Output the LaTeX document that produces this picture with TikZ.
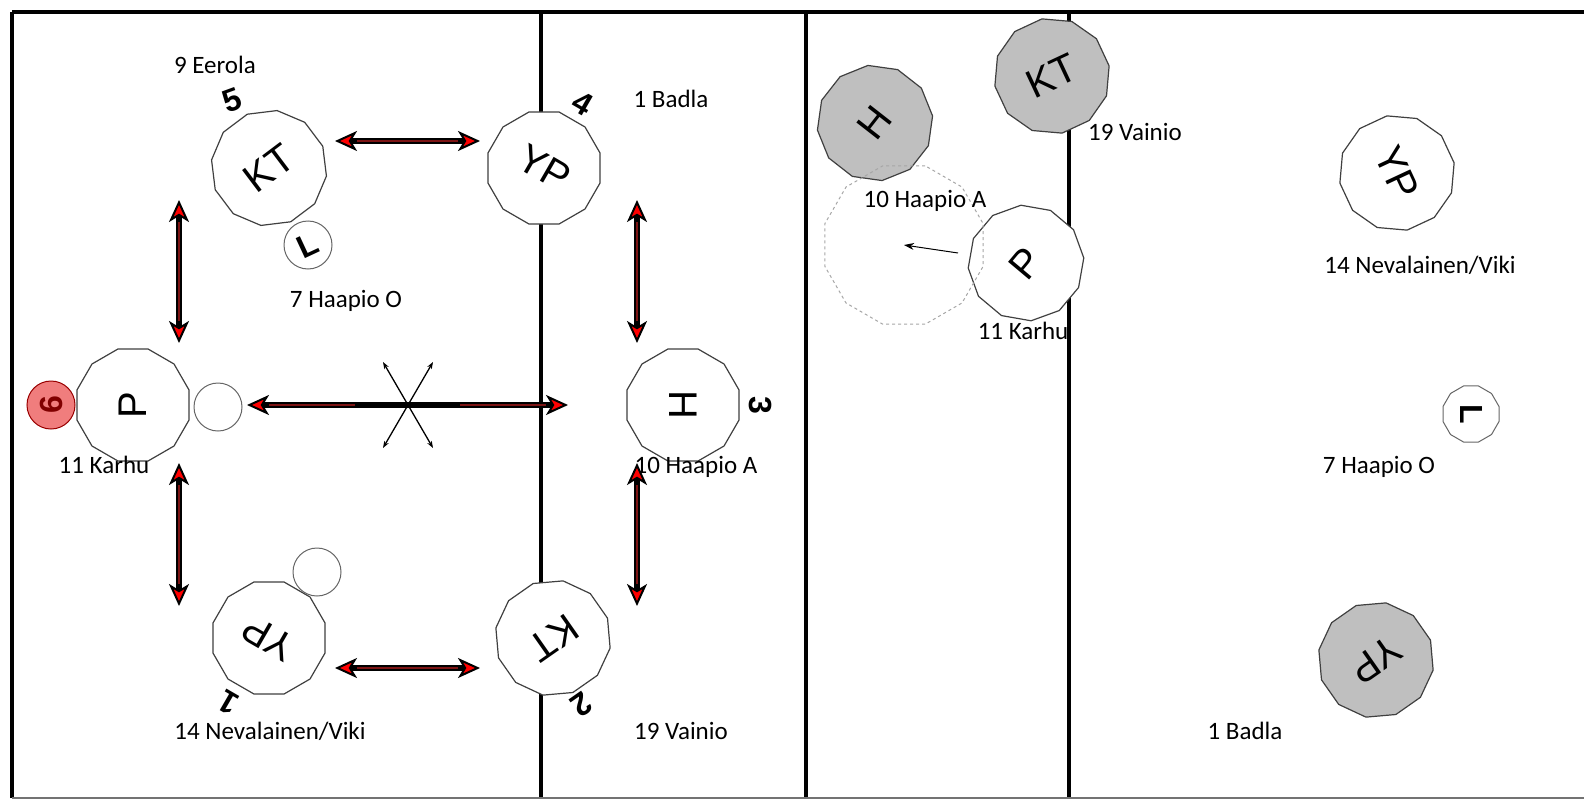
\documentclass[tikz,border=0pt]{standalone}
\usepackage{fontspec}
\setmainfont{Carlito}
\newfontfamily\plfont{Liberation Sans}
\usetikzlibrary{shapes.geometric,arrows.meta}
\definecolor{arrred}{RGB}{125,20,20}
\definecolor{tokred}{RGB}{240,125,125}
\begin{document}
\begin{tikzpicture}[x=1pt,y=-1pt,
    player/.style={regular polygon,regular polygon sides=12,minimum size=116pt,inner sep=0pt,
      draw=black!75,line width=1.2pt,fill=white,font=\plfont\fontsize{40}{40}\selectfont},
    opp/.style={player,fill=black!25},
    ghost/.style={regular polygon,regular polygon sides=12,minimum size=164pt,inner sep=0pt,
      draw=black!35,dashed,line width=1pt},
    token/.style={circle,minimum size=48pt,inner sep=0pt,draw=black!60,line width=1pt,fill=white},
    libtoken/.style={regular polygon,regular polygon sides=12,minimum size=58pt,inner sep=0pt,
      draw=black!60,line width=1pt,fill=white},
    posnum/.style={font=\plfont\bfseries\fontsize{32}{32}\selectfont,inner sep=0pt},
    lbl/.style={font=\fontsize{25}{30}\selectfont,anchor=base,inner sep=0pt},
    wall/.style={line width=4.5pt},
    move/.style={line width=6pt,
      {Stealth[length=22pt,width=20pt,inset=6pt,fill=red,line width=2pt]}-{Stealth[length=22pt,width=20pt,inset=6pt,fill=red,line width=2pt]},
      postaction={draw=arrred,line width=2.5pt,arrows=-,shorten <=22pt,shorten >=22pt}},
    cross/.style={line width=1.3pt,{Stealth[length=7pt,width=5pt]}-{Stealth[length=7pt,width=5pt]}},
    glide/.style={line width=1pt,-{Stealth[length=10pt,width=7pt]}}]
  \useasboundingbox (0,0) rectangle (1584,800);

  % court lines
  \draw[wall] (12,12) -- (1584,12);
  \draw[wall] (12,12) -- (12,798);
  \draw[wall] (541,12) -- (541,798);
  \draw[wall] (806,12) -- (806,798);
  \draw[wall] (1069,12) -- (1069,798);
  \draw[black!55,line width=1.5pt] (12,798) -- (1584,798);

  % left court
  \node[player,rotate=37] (kt1) at (269,168) {KT};
  \node[player,rotate=-30] (yp1) at (544,168) {YP};
  \node[player,rotate=90] (p1) at (133,405) {P};
  \node[player,rotate=-90] (h1) at (683,405) {H};
  \node[player,rotate=150] (yp2) at (269,638) {YP};
  \node[player,rotate=215] (kt2) at (553,638) {KT};

  \node[token,fill=tokred,draw=red!60!black] (t6) at (51,405) {};
  \node[posnum,rotate=90,text=red!50!black] (n6) at (t6) {6};
  \node[token] (l1) at (308,245) {};
  \node[posnum,rotate=25] (ll1) at (l1) {L};
  \node[token] (b1) at (218,407) {};
  \node[token] (b2) at (317,572) {};

  \node[posnum,rotate=20] (n5) at (232,100) {5};
  \node[posnum,rotate=-30] (n4) at (583,103) {4};
  \node[posnum,rotate=-90] (n3) at (760,405) {3};
  \node[posnum,rotate=215] (n2) at (582,705) {2};
  \node[posnum,rotate=150] (n1) at (228,703) {1};

  \node[lbl] (eerola) at (215,74) {9 Eerola};
  \node[lbl] (haapioo) at (346,307) {7 Haapio O};
  \node[lbl] (badla) at (671,107) {1 Badla};
  \node[lbl] (karhu) at (104,473) {11 Karhu};
  \node[lbl] (haapioa) at (696,473) {10 Haapio A};
  \node[lbl] (nevalainen) at (270,739) {14 Nevalainen/Viki};
  \node[lbl] (vainio) at (681,739) {19 Vainio};

  \coordinate (a1) at (335,141);
  \coordinate (a2) at (480,141);
  \coordinate (a3) at (179,200);
  \coordinate (a4) at (179,343);
  \coordinate (a5) at (179,463);
  \coordinate (a6) at (179,606);
  \coordinate (a7) at (335,668);
  \coordinate (a8) at (480,668);
  \coordinate (a9) at (637,200);
  \coordinate (a10) at (637,343);
  \coordinate (a11) at (637,463);
  \coordinate (a12) at (637,606);
  \coordinate (m1) at (247,405);
  \coordinate (m2) at (568,405);
  \coordinate (m3) at (355,405);
  \coordinate (m4) at (460,405);
  \coordinate (x1) at (383,362);
  \coordinate (x2) at (433,448);
  \coordinate (x3) at (433,362);
  \coordinate (x4) at (383,448);

  \draw[move] (a1) -- (a2);
  \draw[move] (a3) -- (a4);
  \draw[move] (a5) -- (a6);
  \draw[move] (a7) -- (a8);
  \draw[move] (a9) -- (a10);
  \draw[move] (a11) -- (a12);
  \draw[move] (m1) -- (m2);
  \draw[line width=6pt] (m3) -- (m4);
  \draw[cross] (x1) -- (x2);
  \draw[cross] (x3) -- (x4);

  % middle court
  \node[opp,rotate=52] (h2) at (875,123) {H};
  \node[opp,rotate=25] (kt3) at (1052,76) {KT};
  \node[player,rotate=50] (p2) at (1026,263) {P};
  \node[ghost] (h2new) at (904,245) {};
  \coordinate (g1) at (958,253);
  \draw[glide] (g1) -- (h2new.center);
  \node[lbl] (haapioa2) at (925,207) {10 Haapio A};
  \node[lbl] (vainio2) at (1135,140) {19 Vainio};
  \node[lbl] (karhu2) at (1023,339) {11 Karhu};

  % right court
  \node[player,rotate=-65] (yp3) at (1397,173) {YP};
  \node[libtoken] (l2) at (1471,414) {};
  \node[posnum,rotate=-90] (ll2) at (l2) {L};
  \node[opp,rotate=215] (yp4) at (1376,660) {YP};
  \node[lbl] (nevalainen2) at (1420,273) {14 Nevalainen/Viki};
  \node[lbl] (haapioo2) at (1379,473) {7 Haapio O};
  \node[lbl] (badla2) at (1245,739) {1 Badla};
\end{tikzpicture}
\end{document}
